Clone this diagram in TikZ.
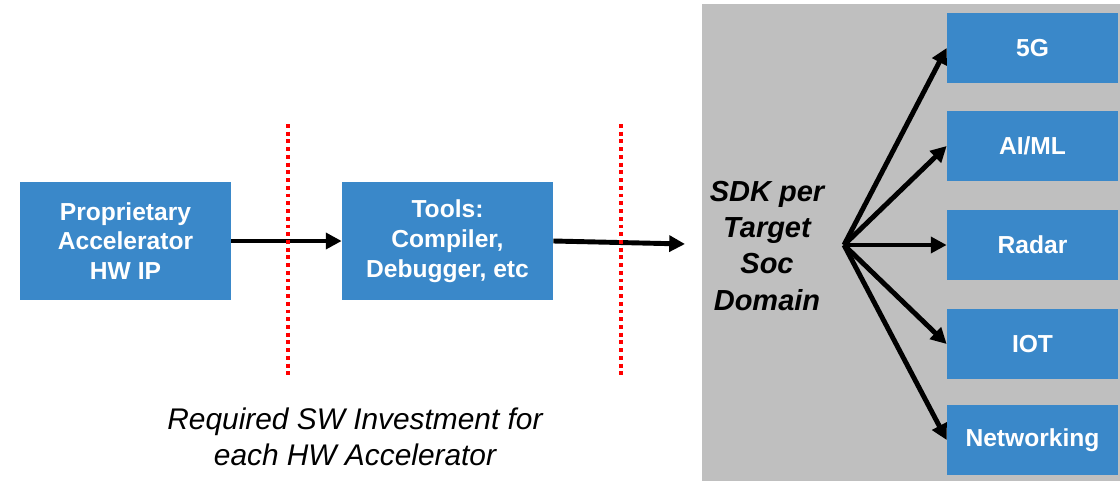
\documentclass[tikz,border=0pt]{standalone}
\usepackage{fontspec}
\setmainfont{Liberation Sans}
\usetikzlibrary{arrows.meta,positioning}

\definecolor{boxblue}{HTML}{3A88C9}
\definecolor{panelgray}{HTML}{BFBFBF}

\begin{document}
\begin{tikzpicture}[
  x=0.02cm, y=-0.02cm,
  >={Triangle[length=9pt,width=9pt]},
  blk/.style={fill=boxblue, text=white, align=center,
              font=\fontsize{14}{17}\selectfont\bfseries,
              minimum width=4.22cm, minimum height=2.36cm, inner sep=2pt},
  dom/.style={fill=boxblue, text=white, align=center,
              font=\fontsize{14}{17}\selectfont\bfseries,
              minimum width=3.42cm, minimum height=1.4cm, inner sep=2pt},
  flow/.style={->, line width=2.8pt, line cap=butt},
  cut/.style={red, line width=2.2pt, dash pattern=on 2.2pt off 2.2pt}
]
\useasboundingbox (0,0) rectangle (1120,481);

% SDK panel
\fill[panelgray] (702,4) rectangle (1120,481);

\node[blk] (prop) at (125.5,241) {Proprietary\\Accelerator\\HW IP};
\node[blk] (tools) at (447.5,241) {Tools:\\Compiler,\\Debugger, etc};

\node[align=center, font=\fontsize{16.5}{20.5}\selectfont\bfseries\itshape]
  (sdk) at (767,246) {SDK per\\Target\\Soc\\Domain};
\coordinate (hub) at (844,245);
\coordinate (sdkin) at (685,244);

\node[dom] (fiveg) at (1032.5,48)  {5G};
\node[dom] (aiml)  at (1032.5,146) {AI/ML};
\node[dom] (radar) at (1032.5,245) {Radar};
\node[dom] (iot)   at (1032.5,344) {IOT};
\node[dom] (net)   at (1032.5,440) {Networking};

\node[align=center, font=\fontsize{17}{20.5}\selectfont\itshape]
  (invest) at (355,437) {Required SW Investment for\\each HW Accelerator};

% red cut lines
\coordinate (cutAtop) at (288,124);
\coordinate (cutAbot) at (288,376);
\coordinate (cutBtop) at (621,124);
\coordinate (cutBbot) at (621,376);

\draw[flow] (prop) -- (tools);
\draw[flow] (tools.east) -- (sdkin);
\draw[cut] (cutAtop) -- (cutAbot);
\draw[cut] (cutBtop) -- (cutBbot);

\foreach \t in {fiveg,aiml,radar,iot,net}
  \draw[flow] (hub) -- (\t.west);

\end{tikzpicture}
\end{document}
